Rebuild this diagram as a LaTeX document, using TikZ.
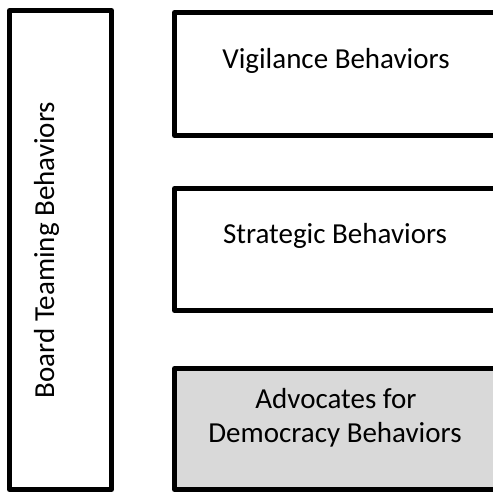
\documentclass[tikz,border=0pt]{standalone}
\usepackage{fontspec}
\setmainfont{Carlito}
\definecolor{panelgray}{HTML}{D9D9D9}
\begin{document}
\begin{tikzpicture}[x=1pt,y=-1pt,
  frame/.style={draw=black, line width=5pt, line join=round, rectangle,
    inner sep=0pt, outer sep=0pt},
  caption/.style={font=\fontsize{29}{33}\selectfont, inner sep=0pt, anchor=base,
    align=center}]
  \clip (0,0) rectangle (493,491);
  \useasboundingbox (0,0) rectangle (493,491);

  % tall frame on the left with rotated heading
  \node[frame, minimum width=102pt, minimum height=479pt] (team) at (60.5,250) {};
  \node[caption, rotate=90] (teamtxt) at (54,250) {Board Teaming Behaviors};

  % three stacked frames on the right
  \node[frame, minimum width=325.5pt, minimum height=123pt] (vig) at (337.25,74) {};
  \node[frame, minimum width=325.5pt, minimum height=122pt] (strat) at (337.25,249.5) {};
  \node[frame, fill=panelgray, minimum width=325.5pt, minimum height=121pt] (adv) at (337.25,429) {};

  \node[caption] (vigtxt) at (336,68) {Vigilance Behaviors};
  \node[caption] (strattxt) at (335,243) {Strategic Behaviors};
  \node[caption] (advtxt1) at (336,408) {Advocates for};
  \node[caption] (advtxt2) at (335,442) {Democracy Behaviors};
\end{tikzpicture}
\end{document}
